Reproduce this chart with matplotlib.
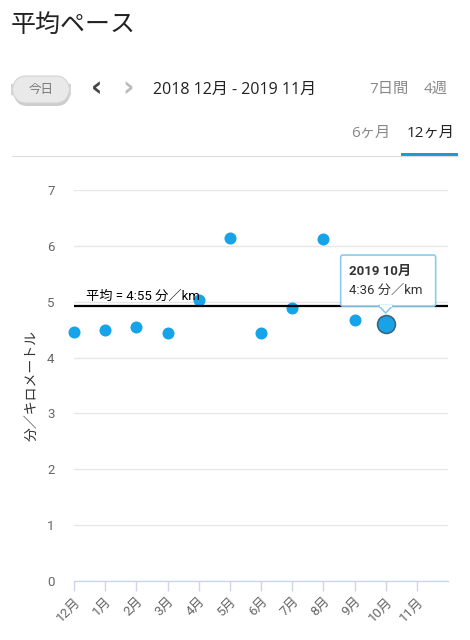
import numpy as np
import matplotlib
matplotlib.use("Agg")
import matplotlib.pyplot as plt
from matplotlib.patches import FancyBboxPatch, Polygon, Rectangle
from matplotlib.lines import Line2D

# ---- data ----
months = ['12月', '1月', '2月', '3月', '4月', '5月', '6月', '7月', '8月', '9月', '10月', '11月']
pace = [4.46, 4.49, 4.55, 4.44, 5.03, 6.14, 4.44, 4.89, 6.12, 4.67, 4.60, np.nan]
average = 4.917
avg_label = '平均 = 4:55 分／km'
highlight_idx = 10
tooltip_title = '2019 10月'
tooltip_value = '4:36 分／km'
yticks = [0, 1, 2, 3, 4, 5, 6, 7]
ylabel = '分／キロメートル'
title = '平均ペース'
date_range = '2018 12月 - 2019 11月'

W, H = 470, 640
JP = ['Noto Sans CJK JP', 'DejaVu Sans']
RJ = ['Roboto', 'Noto Sans CJK JP', 'DejaVu Sans']
OJ = ['Open Sans', 'Noto Sans CJK JP', 'DejaVu Sans']
plt.rcParams['font.family'] = RJ

fig = plt.figure(figsize=(W / 100, H / 100), dpi=100)
fig.patch.set_facecolor('white')

def fx(x):
    return x / W

def fy(y):
    return 1 - y / H

# ---- header ----
fig.text(fx(11), fy(25), title, fontsize=18, family=JP, color='#222222', va='center', ha='left')

# today button
shadow = FancyBboxPatch((fx(13), fy(106)), fx(58), 27 / H,
                        boxstyle='round,pad=0,rounding_size=0.03',
                        transform=fig.transFigure, facecolor='#cdcdcd', edgecolor='none')
fig.patches.append(shadow)
btn = FancyBboxPatch((fx(12), fy(103)), fx(58), 27 / H,
                     boxstyle='round,pad=0,rounding_size=0.03',
                     transform=fig.transFigure, facecolor='#e9e9e9', edgecolor='#d3d3d3', linewidth=0.8)
fig.patches.append(btn)
fig.text(fx(41), fy(89), '今日', fontsize=9, family=JP, color='#777777', ha='center', va='center')
fig.text(fx(97), fy(88), '‹', fontsize=20, fontweight='bold', color='#444444', ha='center', va='center', family=['DejaVu Sans'])
fig.text(fx(128), fy(88), '›', fontsize=20, fontweight='bold', color='#bbbbbb', ha='center', va='center', family=['DejaVu Sans'])
fig.text(fx(153), fy(90), date_range, fontsize=11.5, family=OJ, color='#222222', ha='left', va='center')
fig.text(fx(409), fy(89), '7日間', fontsize=11, family=OJ, color='#888888', ha='right', va='center')
fig.text(fx(448), fy(89), '4週', fontsize=11, family=OJ, color='#888888', ha='right', va='center')
fig.text(fx(390), fy(133), '6ヶ月', fontsize=11, family=OJ, color='#888888', ha='right', va='center')
fig.text(fx(455), fy(133), '12ヶ月', fontsize=11, family=OJ, color='#222222', ha='right', va='center')
fig.lines.append(Line2D([fx(12), fx(458)], [fy(155.5), fy(155.5)], transform=fig.transFigure,
                        color='#dddddd', linewidth=0.8))
fig.patches.append(Rectangle((fx(401), fy(156)), fx(57), 3 / H, transform=fig.transFigure,
                             facecolor='#1a9ad6', edgecolor='none'))

# ---- chart ----
ax = fig.add_axes([fx(74), fy(581), fx(448 - 74), (581 - 190) / H])
x = np.arange(len(months))
ax.set_xlim(0, 12)
ax.set_ylim(0, 7)
ax.set_yticks(yticks)
ax.set_xticks(x)
ax.set_xticklabels(months, rotation=45, ha='right', va='top', rotation_mode='anchor',
                   fontsize=9.5, color='#666666', family=RJ)
ax.tick_params(axis='x', length=7, color='#ccd6eb', width=1, pad=3)
ax.tick_params(axis='y', length=0, pad=14, labelsize=9.5, labelcolor='#666666')
for s in ['top', 'right', 'left']:
    ax.spines[s].set_visible(False)
ax.spines['bottom'].set_color('#ccd6eb')
ax.spines['bottom'].set_linewidth(1)
ax.grid(axis='y', color='#e6e6e6', linewidth=1)
ax.set_axisbelow(True)
ax.set_ylabel(ylabel, family=JP, fontsize=10, color='#333333', labelpad=6)

blue = '#17a3e8'
mask = np.array([i != highlight_idx for i in range(len(months))])
pace_arr = np.array(pace)
ax.scatter(x[mask], pace_arr[mask], s=75, color=blue, zorder=3, linewidths=0, clip_on=False)
ax.axhline(average, color='black', linewidth=1.6, zorder=4)
ax.text(0.4, average + 0.06, avg_label, fontsize=9.5, color='black', family=RJ, va='bottom', ha='left', zorder=5)
ax.scatter([x[highlight_idx]], [pace_arr[highlight_idx]], s=165, color=blue, zorder=6,
           edgecolors='#41647a', linewidths=1.2)

# tooltip
fig.canvas.draw()
px, py = ax.transData.transform((x[highlight_idx], pace_arr[highlight_idx]))
ptx = px
pty = H - py
bx0, by0, bw, bh = ptx - 45, pty - 69, 95, 51
tip = FancyBboxPatch((fx(bx0), fy(by0 + bh)), fx(bw), bh / H,
                     boxstyle='round,pad=0,rounding_size=0.004', transform=fig.transFigure,
                     facecolor='white', edgecolor='#8ccbec', linewidth=1.2, zorder=10)
fig.patches.append(tip)
tri = Polygon([[fx(ptx - 7), fy(by0 + bh - 0.5)], [fx(ptx + 7), fy(by0 + bh - 0.5)],
               [fx(ptx), fy(by0 + bh + 7)]], closed=True, transform=fig.transFigure,
              facecolor='white', edgecolor='#8ccbec', linewidth=1.2, zorder=10)
fig.patches.append(tri)
fig.patches.append(Rectangle((fx(ptx - 6), fy(by0 + bh + 0.5)), fx(12), 2 / H, transform=fig.transFigure,
                             facecolor='white', edgecolor='none', zorder=11))
fig.text(fx(bx0 + 8), fy(by0 + 16), tooltip_title, fontsize=9.5, fontweight='bold', color='#333333',
         family=RJ, va='center', ha='left', zorder=12)
fig.text(fx(bx0 + 8), fy(by0 + 35), tooltip_value, fontsize=9.5, color='#333333',
         family=RJ, va='center', ha='left', zorder=12)

fig.savefig('out.png', dpi=100, facecolor='white')
